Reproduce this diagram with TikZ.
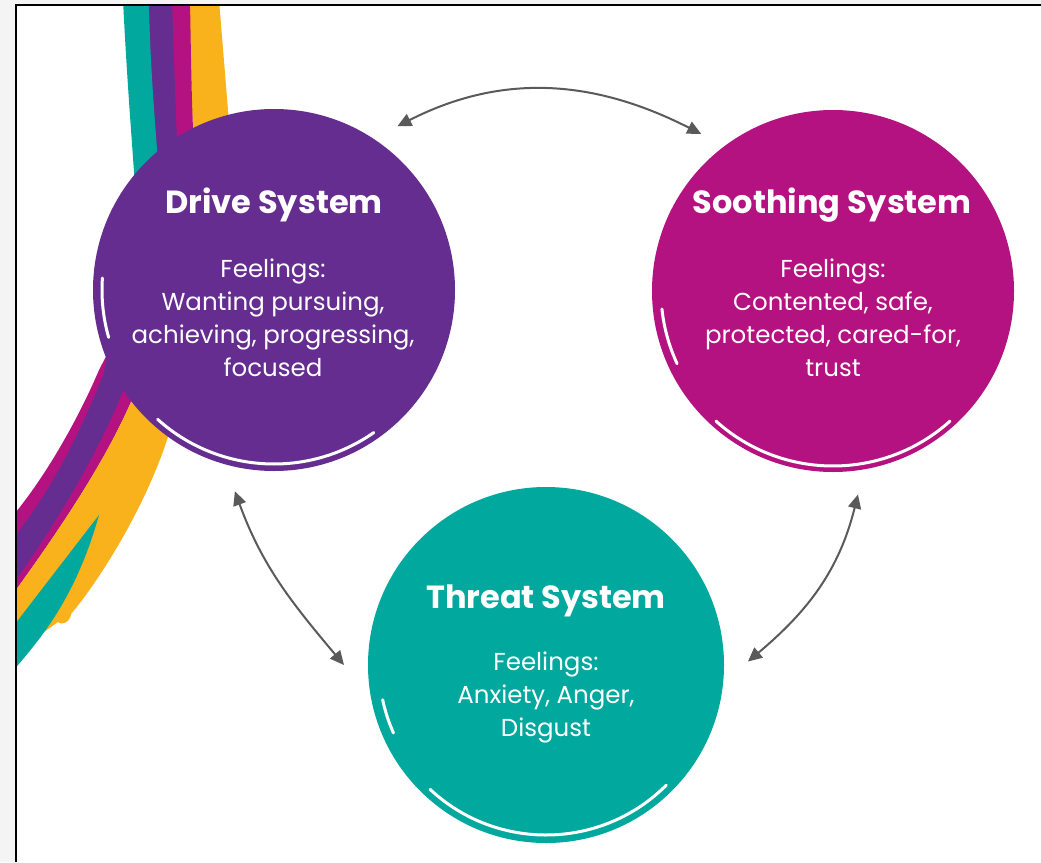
\documentclass[tikz,border=0pt]{standalone}
\usepackage{fontspec}
\setmainfont{Poppins}
\usetikzlibrary{arrows.meta}
\definecolor{drivepurple}{RGB}{102,45,145}
\definecolor{soothepink}{RGB}{180,18,128}
\definecolor{threatteal}{RGB}{0,168,158}
\definecolor{brushorange}{RGB}{250,178,28}
\definecolor{linkgrey}{RGB}{90,90,90}
\definecolor{screengrey}{RGB}{244,244,244}

\begin{document}
\begin{tikzpicture}[x=1pt,y=1pt,
  system/.style={circle,minimum size=362pt,inner sep=0pt,outer sep=24pt},
  systitle/.style={text=white,font=\fontsize{32}{38}\selectfont\bfseries},
  feelings/.style={text=white,align=center,font=\fontsize{24.5}{33}\selectfont},
  link/.style={draw=linkgrey,line width=2pt,<->,>={Triangle[length=14pt,width=13pt]}},
  swoosh/.style={white,line width=3pt,line cap=round}]
\useasboundingbox (0,0) rectangle (1041,-862);
\fill[screengrey] (0,0) rectangle (1041,-862);
\fill[white] (16,-5) rectangle (1041,-862);

\begin{scope}
\clip (16,-5) rectangle (1041,-862);
% brush strokes coming in from the top
\fill[brushorange] (188,0) .. controls (192,-100) .. (196,-260) -- (240,-260) .. controls (228,-110) .. (219,0) -- cycle;
\fill[soothepink] (170,0) .. controls (174,-100) .. (180,-260) -- (200,-260) .. controls (192,-120) .. (190,0) -- cycle;
\fill[drivepurple] (147,0) .. controls (150,-100) .. (158,-260) -- (182,-260) .. controls (176,-120) .. (172,0) -- cycle;
\fill[threatteal] (123,0) .. controls (128,-100) and (133,-150) .. (140,-260) -- (165,-260) .. controls (158,-150) and (150,-80) .. (149,0) -- cycle;
% and leaving at the bottom left
\fill[soothepink] (125,-320) -- (99,-370) .. controls (80,-415) and (45,-480) .. (5,-525)
  -- (5,-605) .. controls (60,-530) and (110,-455) .. (136,-390) -- (150,-340) -- cycle;
\fill[drivepurple] (110,-340) -- (104,-373) .. controls (85,-420) and (55,-490) .. (5,-548)
  -- (5,-595) .. controls (60,-520) and (105,-440) .. (126,-383) -- (135,-345) -- cycle;
\fill[brushorange] (150,-340) -- (136,-390) .. controls (110,-455) and (60,-530) .. (5,-605)
  -- (5,-660) -- (58,-622) .. controls (62,-626) and (70,-622) .. (71,-614)
  .. controls (100,-580) and (150,-500) .. (171,-427) -- (190,-375) -- cycle;
\fill[threatteal] (99,-515) -- (5,-637) -- (5,-680) .. controls (40,-640) and (75,-600) .. (99,-515) -- cycle;
\end{scope}

\node[system,fill=drivepurple] (drive) at (274,-290) {};
\node[system,fill=soothepink] (soothe) at (833,-291) {};
\node[system,fill=threatteal,minimum size=356pt] (threat) at (546,-665) {};

% dry brush edges
\draw[swoosh] (drive.center) ++(228:174) arc[start angle=228,end angle=305,radius=174];
\draw[swoosh] (drive.center) ++(176:172) arc[start angle=176,end angle=196,radius=172];
\draw[swoosh] (soothe.center) ++(228:175) arc[start angle=228,end angle=312,radius=175];
\draw[swoosh] (soothe.center) ++(186:172) arc[start angle=186,end angle=205,radius=172];
\draw[swoosh] (threat.center) ++(227:170) arc[start angle=227,end angle=315,radius=170];
\draw[swoosh] (threat.center) ++(192:167) arc[start angle=192,end angle=204,radius=167];

\node[systitle] (drivename) at (274,-205) {Drive System};
\node[feelings] (drivefeel) at (273,-318) {Feelings:\\Wanting pursuing,\\achieving, progressing,\\focused};
\node[systitle] (soothename) at (832,-205) {Soothing System};
\node[feelings] (soothefeel) at (833,-318) {Feelings:\\Contented, safe,\\protected, cared-for,\\trust};
\node[systitle] (threatname) at (546,-601) {Threat System};
\node[feelings] (threatfeel) at (546,-697) {Feelings:\\Anxiety, Anger,\\Disgust};

\draw[link] (drive.53) to[out=27,in=153] (soothe.130);
\draw[link] (drive.259) to[out=-70,in=130] (threat.180);
\draw[link] (soothe.277) to[out=256,in=40] (threat.1);

\draw[line width=1.6pt] (16,-862) -- (16,-5) -- (1041,-5);
\end{tikzpicture}
\end{document}
